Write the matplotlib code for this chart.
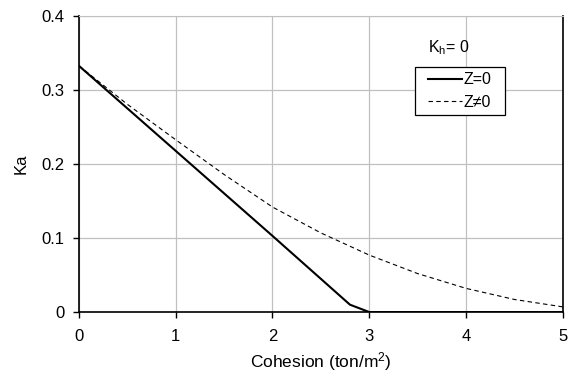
import matplotlib
matplotlib.use("Agg")
import matplotlib.pyplot as plt
from matplotlib.patches import Rectangle

plt.rcParams['font.family'] = ['Liberation Sans', 'DejaVu Sans']
plt.rcParams['mathtext.fontset'] = 'custom'
plt.rcParams['mathtext.rm'] = 'Liberation Sans'
plt.rcParams['mathtext.it'] = 'Liberation Sans:italic'

c_solid = [0, 1, 2, 2.8, 3, 4, 5]
ka_z0 = [0.333, 0.218, 0.103, 0.010, 0.0, 0.0, 0.0]
c_dash = [0, 0.5, 1, 1.5, 2, 2.5, 3, 3.5, 4, 4.5, 5]
ka_znz = [0.333, 0.281, 0.233, 0.186, 0.142, 0.107, 0.077, 0.052, 0.032, 0.017, 0.007]

fig = plt.figure(figsize=(5.71, 3.76), dpi=100)
ax = fig.add_axes([0.138, 0.170, 0.848, 0.787])
ax.plot(c_solid, ka_z0, color='black', lw=1.5, label='Z=0')
ax.plot(c_dash, ka_znz, color='black', lw=0.8, ls=(0, (4, 3)), label='Z≠0')
ax.set_xlim(0, 5); ax.set_ylim(0, 0.4)
ax.set_xticks(range(6)); ax.set_xticklabels(['0', '1', '2', '3', '4', '5'])
ax.set_yticks([0, 0.1, 0.2, 0.3, 0.4]); ax.set_yticklabels(['0', '0.1', '0.2', '0.3', '0.4'])
ax.grid(True, color='#c0c0c0', lw=0.9)
ax.set_axisbelow(True)
for s in ['left', 'bottom', 'right']:
    ax.spines[s].set_color('black'); ax.spines[s].set_linewidth(1.2)
ax.spines['top'].set_color('#c0c0c0')
ax.tick_params(direction='out', length=4.5, width=1, labelsize=12)
ax.tick_params(axis='y', pad=6)
ax.tick_params(axis='x', pad=8)
ax.set_xlabel('Cohesion (ton/m$^2$)', fontsize=12.5, labelpad=4)
ax.set_ylabel('Ka', fontsize=12, labelpad=9)
ax.text(0.764, 0.895, 'K$_\\mathrm{h}$= 0', transform=ax.transAxes, ha='center', va='center', fontsize=11.5)
ax.add_patch(Rectangle((0.694, 0.666), 0.186, 0.162, transform=ax.transAxes, facecolor='white',
                       edgecolor='black', lw=0.9, zorder=4))
leg = ax.legend(loc='center', bbox_to_anchor=(0.787, 0.747), frameon=False, fontsize=11.5,
                handlelength=2.1, handletextpad=0.1, borderpad=0.2, labelspacing=0.45)
leg.set_zorder(5)
fig.savefig('out.png', dpi=100)
